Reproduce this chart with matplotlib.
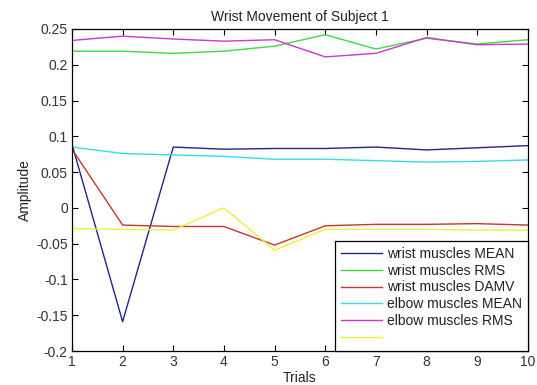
import matplotlib
matplotlib.use("Agg")
import matplotlib.pyplot as plt

plt.rcParams['font.family'] = ['Liberation Sans', 'DejaVu Sans']

trials = [1, 2, 3, 4, 5, 6, 7, 8, 9, 10]
wrist_mean = [0.089, -0.159, 0.085, 0.082, 0.083, 0.083, 0.085, 0.081, 0.084, 0.087]
wrist_rms = [0.219, 0.219, 0.216, 0.219, 0.226, 0.242, 0.222, 0.237, 0.229, 0.235]
wrist_damv = [0.082, -0.024, -0.026, -0.026, -0.052, -0.025, -0.023, -0.023, -0.022, -0.024]
elbow_mean = [0.085, 0.076, 0.074, 0.072, 0.068, 0.068, 0.066, 0.064, 0.065, 0.067]
elbow_rms = [0.234, 0.240, 0.236, 0.233, 0.235, 0.211, 0.216, 0.238, 0.228, 0.229]
elbow_sixth = [-0.029, -0.030, -0.031, 0.000, -0.059, -0.030, -0.030, -0.030, -0.031, -0.031]
labels = ['wrist muscles MEAN', 'wrist muscles RMS', 'wrist muscles DAMV',
          'elbow muscles MEAN', 'elbow muscles RMS', '']
colors = ['#24248c', '#40d840', '#cc3333', '#33e0e0', '#d035d0', '#f0f035']

fig = plt.figure(figsize=(5.37, 3.85), dpi=100)
ax = fig.add_axes([0.134, 0.0883, 0.849, 0.8364])
series = [wrist_mean, wrist_rms, wrist_damv, elbow_mean, elbow_rms, elbow_sixth]
handles = []
for s, c in zip(series, colors):
    ln, = ax.plot(trials, s, color=c, lw=1.0)
    handles.append(ln)

ax.set_xlim(1, 10)
ax.set_ylim(-0.2, 0.25)
ax.set_xticks(trials)
ax.set_yticks([-0.2, -0.15, -0.1, -0.05, 0, 0.05, 0.1, 0.15, 0.2, 0.25])
ax.set_yticklabels(['-0.2', '-0.15', '-0.1', '-0.05', '0', '0.05', '0.1', '0.15', '0.2', '0.25'])
ax.tick_params(direction='in', top=True, right=True, labelsize=10, length=4, width=0.8, pad=3,
               labelcolor='#333333')
for sp in ax.spines.values():
    sp.set_linewidth(0.9)
ax.set_title('Wrist Movement of Subject 1', fontsize=10, pad=6, color='#222222')
ax.set_xlabel('Trials', fontsize=10, labelpad=1, color='#222222')
ax.set_ylabel('Amplitude', fontsize=10, labelpad=3, color='#222222')
leg = ax.legend(handles, labels, loc='lower right', fontsize=10, frameon=True, fancybox=False,
                edgecolor='black', borderaxespad=0, handlelength=3.0,
                labelspacing=0.2, borderpad=0.45, handletextpad=0.3, framealpha=1)
leg.get_frame().set_linewidth(0.9)
for t in leg.get_texts():
    t.set_color('#222222')

fig.savefig('out.png', dpi=100)
